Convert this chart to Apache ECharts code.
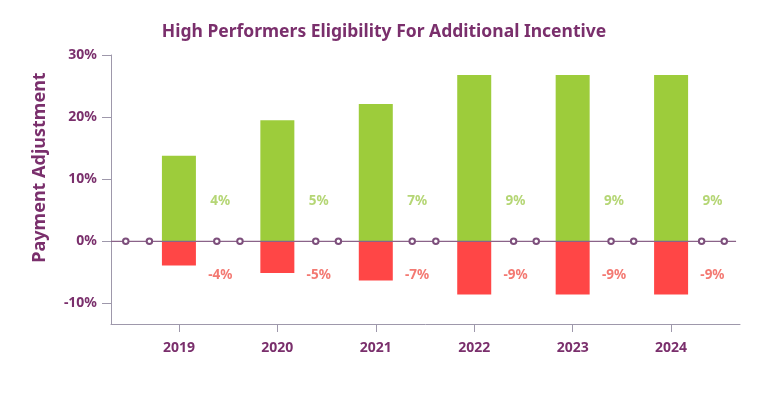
<!DOCTYPE html>
<html>
<head>
<meta charset="utf-8">
<script src="https://cdn.jsdelivr.net/npm/echarts@6/dist/echarts.min.js"></script>
<style>
html, body { margin: 0; padding: 0; background: #fff; }
#chart { width: 768px; height: 398px; }
</style>
</head>
<body>
<div id="chart"></div>
<script>
// categories and values
var years = ['2019', '2020', '2021', '2022', '2023', '2024'];
var upside = [13.8, 19.5, 22.1, 26.8, 26.8, 26.8];
var downside = [-3.9, -5.1, -6.3, -8.55, -8.55, -8.55];
var upLabels = ['4%', '5%', '7%', '9%', '9%', '9%'];
var downLabels = ['-4%', '-5%', '-7%', '-9%', '-9%', '-9%'];
// small open circles along the zero line (x in year units)
var zeroDots = [-0.54, -0.30, 0.385, 0.62, 1.39, 1.62, 2.37, 2.61, 3.40, 3.63, 4.39, 4.62, 5.31, 5.54];
var yTicks = [-10, 0, 10, 20, 30];

var purple = '#7a2f6c';
var font = 'Noto Sans';

var chart = echarts.init(document.getElementById('chart'));

var xMin = -0.69, xMax = 5.70;
var idx = years.map(function (y, i) { return i; });

var zeroLine = [{ value: [xMin, 0], symbol: 'none' }];
zeroDots.forEach(function (x) { zeroLine.push([x, 0]); });
zeroLine.push({ value: [5.66, 0], symbol: 'none' });

var option = {
	animation: false,
	title: {
		text: 'High Performers Eligibility For Additional Incentive',
		left: 'center',
		top: 18,
		textStyle: { color: purple, fontFamily: font, fontSize: 17.5, fontWeight: 'bold' }
	},
	grid: { left: 111, right: 28, top: 55, bottom: 74 },
	xAxis: {
		type: 'value',
		min: xMin,
		max: xMax,
		splitLine: { show: false },
		axisLine: { show: true, onZero: false, lineStyle: { color: '#9e98ab', width: 1 } },
		axisTick: { show: true, customValues: idx, length: 8, lineStyle: { color: '#9e98ab' } },
		axisLabel: {
			customValues: idx,
			margin: 17,
			color: purple,
			fontFamily: font,
			fontSize: 14,
			fontWeight: 'bold',
			formatter: function (v) { return years[Math.round(v)]; }
		}
	},
	yAxis: {
		type: 'value',
		min: -13.3,
		max: 30,
		name: 'Payment Adjustment',
		nameLocation: 'middle',
		nameGap: 62,
		nameTextStyle: { color: purple, fontFamily: font, fontSize: 18, fontWeight: 'bold', padding: [0, 0, 0, 44] },
		splitLine: { show: false },
		axisLine: { show: true, onZero: false, lineStyle: { color: '#9e98ab', width: 1 } },
		axisTick: { show: true, customValues: yTicks, length: 9, lineStyle: { color: '#9e98ab' } },
		axisLabel: {
			customValues: yTicks,
			margin: 14,
			color: purple,
			fontFamily: font,
			fontSize: 14,
			fontWeight: 'bold',
			formatter: '{value}%'
		}
	},
	series: [
		{
			type: 'bar',
			stack: 'adj',
			barWidth: 34,
			itemStyle: { color: '#9dcc3b' },
			data: idx.map(function (i) { return [i, upside[i]]; })
		},
		{
			type: 'bar',
			stack: 'adj',
			barWidth: 34,
			itemStyle: { color: '#ff4646' },
			data: idx.map(function (i) { return [i, downside[i]]; })
		},
		{
			type: 'line',
			symbol: 'emptyCircle',
			symbolSize: 5.5,
			z: 5,
			lineStyle: { color: '#8a6389', width: 1.2 },
			itemStyle: { color: '#7d4f7c', borderWidth: 1.2 },
			data: zeroLine
		},
		{
			type: 'scatter',
			symbolSize: 0,
			label: {
				show: true, position: 'inside', color: '#a2cc52',
				fontFamily: font, fontSize: 13.5, fontWeight: 'bold',
				formatter: function (p) { return upLabels[p.dataIndex]; }
			},
			data: idx.map(function (i) { return [i + 0.42, 6.43]; })
		},
		{
			type: 'scatter',
			symbolSize: 0,
			label: {
				show: true, position: 'inside', color: '#f0584f',
				fontFamily: font, fontSize: 13.5, fontWeight: 'bold',
				formatter: function (p) { return downLabels[p.dataIndex]; }
			},
			data: idx.map(function (i) { return [i + 0.42, -5.45]; })
		}
	]
};

chart.setOption(option);
</script>
</body>
</html>
